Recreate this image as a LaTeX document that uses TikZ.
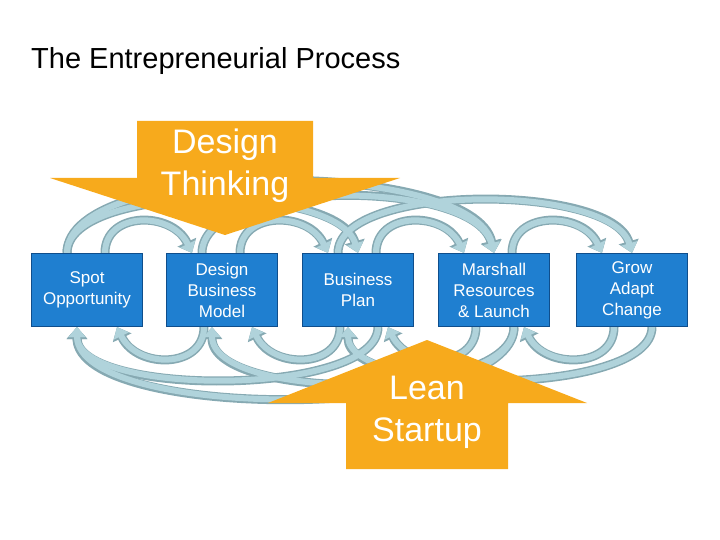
\documentclass[tikz,border=0pt]{standalone}
\usepackage{fontspec}
\setmainfont{Liberation Sans}
\usetikzlibrary{arrows.meta}
\definecolor{boxblue}{HTML}{1F7FD0}
\definecolor{boxedge}{HTML}{0F4E8C}
\definecolor{orng}{HTML}{F7AA1C}
\definecolor{flowc}{HTML}{B0D3DB}
\definecolor{flowe}{HTML}{86A9B2}
\begin{document}
\begin{tikzpicture}[x=1pt,y=-1pt,
  box/.style={draw=boxedge,line width=1pt,fill=boxblue,minimum width=111pt,minimum height=73pt,text=white,align=center,font=\fontsize{17}{21}\selectfont,inner sep=0pt},
  fedge/.style={draw=flowe,line width=9pt,-{Triangle[length=12pt,width=20pt]}},
  fin/.style={draw=flowc,line width=6pt,-{Triangle[length=10pt,width=16pt]}},
  otext/.style={text=white,align=center,font=\fontsize{34}{42}\selectfont,inner sep=0pt}]
\useasboundingbox (0,0) rectangle (720,540);
\node[anchor=west,font=\fontsize{29}{34}\selectfont,inner sep=0pt] (title) at (31,61) {The Entrepreneurial Process};
\foreach \n/\x in {a/87,b/222,c/358,d/494,e/632}{
  \coordinate (\n) at (\x,290);
  \coordinate (\n T) at (\x,253); \coordinate (\n B) at (\x,327);}
\foreach \s in {fedge,fin}{
  \foreach \u/\v in {a/b,b/c,c/d,d/e}{
    \draw[\s] ([xshift=18pt]\u T) .. controls ([xshift=18pt,yshift=42pt]\u T) and ([xshift=-50pt,yshift=42pt]\v T) .. ([xshift=-30pt]\v T);}
  \foreach \u/\v/\h in {a/c/70,b/d/75,c/e/70,a/d/95}{
    \draw[\s] ([xshift=-20pt]\u T) .. controls ([xshift=-20pt,yshift=\h pt]\u T) and ([xshift=-20pt,yshift=\h pt]\v T) .. ([xshift=0pt]\v T);}
  \foreach \u/\v in {b/a,c/b,d/c,e/d}{
    \draw[\s] ([xshift=-18pt]\u B) .. controls ([xshift=-18pt,yshift=-42pt]\u B) and ([xshift=50pt,yshift=-42pt]\v B) .. ([xshift=30pt]\v B);}
  \foreach \u/\v/\h in {c/a/70,d/b/75,e/c/70,d/a/95}{
    \draw[\s] ([xshift=20pt]\u B) .. controls ([xshift=20pt,yshift=-\h pt]\u B) and ([xshift=-10pt,yshift=-\h pt]\v B) .. ([xshift=-10pt]\v B);}
}
\node[box] (na) at (a) {Spot\\Opportunity};
\node[box] (nb) at (b) {Design\\Business\\Model};
\node[box] (nc) at (c) {Business\\Plan};
\node[box] (nd) at (d) {Marshall\\Resources\\\& Launch};
\node[box] (ne) at (e) {Grow\\Adapt\\Change};
\fill[orng] (137,121) -- (313,121) -- (313,178) -- (400,178) -- (225,235) -- (50,178) -- (137,178) -- cycle;
\node[otext] (dt) at (225,166) {Design\\Thinking};
\fill[orng] (346,469) -- (508,469) -- (508,403) -- (587,403) -- (427,340) -- (268,403) -- (346,403) -- cycle;
\node[otext] (ls) at (427,412) {Lean\\Startup};
\end{tikzpicture}
\end{document}
